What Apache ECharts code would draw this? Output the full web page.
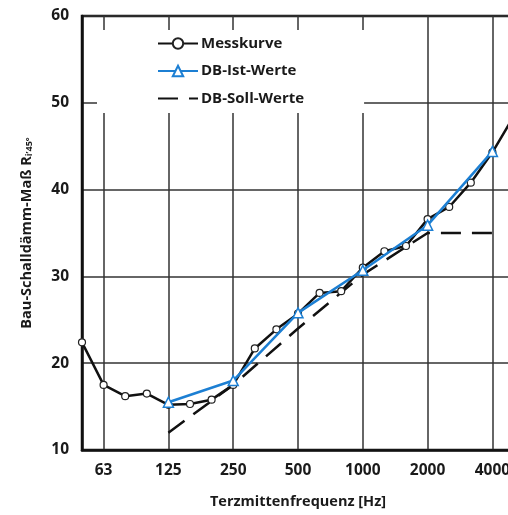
<!DOCTYPE html>
<html>
<head>
<meta charset="utf-8">
<script src="https://cdn.jsdelivr.net/npm/echarts@6/dist/echarts.min.js"></script>
<style>html,body{margin:0;padding:0;background:#fff}#c{width:508px;height:515px}</style>
</head>
<body>
<div id="c"></div>
<script>
// Third-octave band centre frequencies (Hz)
var freqs = ['50','63','80','100','125','160','200','250','315','400','500','630','800','1000','1250','1600','2000','2500','3150','4000','5000'];
var octaveLabels = ['63','125','250','500','1000','2000','4000'];
var messkurve = [22.4,17.5,16.2,16.5,15.2,15.3,15.8,17.5,21.7,23.9,25.7,28.1,28.3,31.0,32.9,33.5,36.6,38.0,40.8,44.3,48.5];
var dbIst     = [null,null,null,null,15.5,null,null,18.0,null,null,25.8,null,null,30.7,null,null,35.9,null,null,44.4,null];
var dbSoll    = [null,null,null,null,12.0,null,null,17.5,null,null,24.0,null,null,30.2,null,null,35.0,null,null,35.0,null];
var yTicks = [10,20,30,40,50,60];

var FONT = 'Open Sans';
var isOct = function (idx) { return octaveLabels.indexOf(freqs[idx]) >= 0; };

var chart = echarts.init(document.getElementById('c'), null, {renderer: 'canvas'});
chart.setOption({
  animation: false,
  backgroundColor: '#fff',
  grid: {left: 82, top: 16, width: 432, height: 434, outerBoundsMode: 'none', containLabel: false,
         show: true, borderColor: '#111', borderWidth: 2.5, backgroundColor: 'transparent'},
  legend: {
    left: 97, top: 30, orient: 'vertical',
    padding: [6, 60, 7, 60],
    backgroundColor: '#fff',
    itemWidth: 40, itemHeight: 13, itemGap: 12.5,
    textStyle: {fontFamily: FONT, fontWeight: 'bold', fontSize: 15, color: '#1a1a1a', padding: [0,0,0,-2]},
    data: ['Messkurve', 'DB-Ist-Werte',
           {name: 'DB-Soll-Werte', itemStyle: {color: 'rgba(0,0,0,0)', borderColor: 'rgba(0,0,0,0)', borderWidth: 0}}]
  },
  xAxis: {
    type: 'category', data: freqs, boundaryGap: false,
    name: 'Terzmittenfrequenz [Hz]', nameLocation: 'middle', nameGap: 44,
    nameTextStyle: {fontFamily: FONT, fontWeight: 'bold', fontSize: 14.5, color: '#1a1a1a'},
    axisLine: {lineStyle: {color: '#111', width: 2.5}},
    axisTick: {show: false},
    axisLabel: {interval: function (i) { return isOct(i); }, fontFamily: FONT, fontWeight: 'bold', fontSize: 15.5, color: '#1a1a1a', margin: 13},
    splitLine: {show: true, interval: function (i) { return isOct(i); }, lineStyle: {color: '#333', width: 1.5}}
  },
  yAxis: {
    type: 'value', min: yTicks[0], max: yTicks[yTicks.length - 1], interval: 10,
    name: '{m|Bau-Schalldämm-Maß R}{s|i\u201945°}', nameLocation: 'middle', nameGap: 48, nameRotate: 90,
    nameTextStyle: {fontFamily: FONT, fontWeight: 'bold', fontSize: 14.5, color: '#1a1a1a',
      rich: {m: {fontFamily: FONT, fontWeight: 'bold', fontSize: 14.5, color: '#1a1a1a'},
             s: {fontFamily: FONT, fontWeight: 'bold', fontSize: 9, color: '#1a1a1a', verticalAlign: 'bottom', padding: [6,0,0,0]}}},
    axisLine: {show: true, lineStyle: {color: '#111', width: 2.5}},
    axisTick: {show: false},
    axisLabel: {fontFamily: FONT, fontWeight: 'bold', fontSize: 15.5, color: '#1a1a1a', margin: 13},
    splitLine: {show: true, lineStyle: {color: '#333', width: 1.5}}
  },
  series: [
    {name: 'Messkurve', type: 'line', data: messkurve, z: 3,
     symbol: 'circle', symbolSize: 7, showAllSymbol: true,
     lineStyle: {color: '#111', width: 2.5},
     itemStyle: {color: '#fff', borderColor: '#222', borderWidth: 1.2}},
    {name: 'DB-Ist-Werte', type: 'line', data: dbIst, connectNulls: true, z: 4,
     symbol: 'triangle', symbolSize: 10, showAllSymbol: true,
     lineStyle: {color: '#1c7fd3', width: 2.5},
     itemStyle: {color: '#fff', borderColor: '#1c7fd3', borderWidth: 1.5}},
    {name: 'DB-Soll-Werte', type: 'line', data: dbSoll, connectNulls: true, z: 2,
     symbol: 'none',
     lineStyle: {color: '#111', width: 2.5, type: [20, 11]},
     itemStyle: {color: '#111'}}
  ]
});
</script>
</body>
</html>
